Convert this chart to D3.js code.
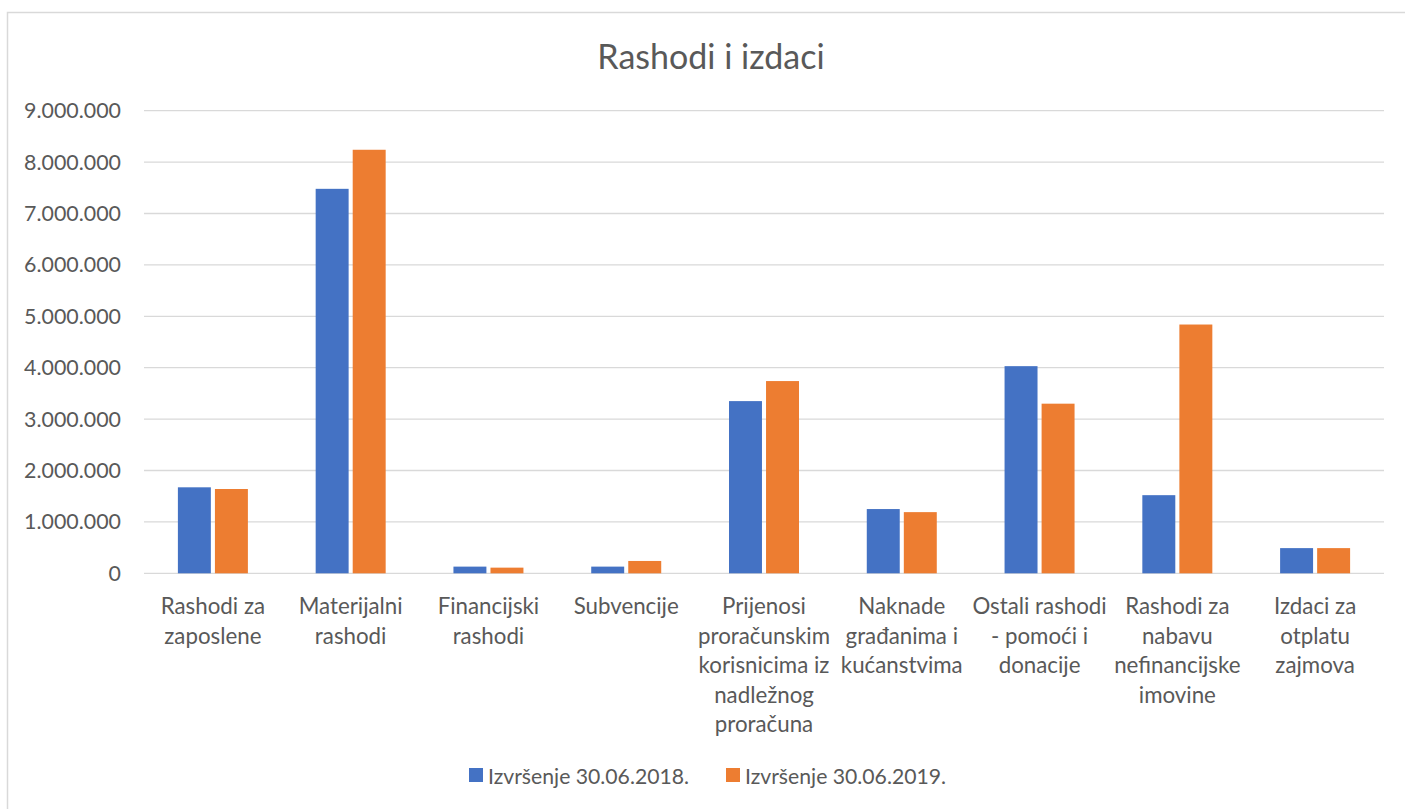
<!DOCTYPE html>
<html>
<head>
<meta charset="utf-8">
<script src="https://cdn.jsdelivr.net/npm/d3@7"></script>
<style>
  body { margin: 0; background: #fff; }
  text { font-family: Lato, "Open Sans", sans-serif; fill: #595959; }
</style>
</head>
<body>
<svg width="1405" height="809"></svg>
<script>
const width = 1405
const height = 809

// chart data
const categories = [
  "Rashodi za zaposlene",
  "Materijalni rashodi",
  "Financijski rashodi",
  "Subvencije",
  "Prijenosi proračunskim korisnicima iz nadležnog proračuna",
  "Naknade građanima i kućanstvima",
  "Ostali rashodi - pomoći i donacije",
  "Rashodi za nabavu nefinancijske imovine",
  "Izdaci za otplatu zajmova"
]
const categoryLines = [
  ["Rashodi za", "zaposlene"],
  ["Materijalni", "rashodi"],
  ["Financijski", "rashodi"],
  ["Subvencije"],
  ["Prijenosi", "proračunskim", "korisnicima iz", "nadležnog", "proračuna"],
  ["Naknade", "građanima i", "kućanstvima"],
  ["Ostali rashodi", "- pomoći i", "donacije"],
  ["Rashodi za", "nabavu", "nefinancijske", "imovine"],
  ["Izdaci za", "otplatu", "zajmova"]
]
const seriesNames = ["Izvršenje 30.06.2018.", "Izvršenje 30.06.2019."]
const values2018 = [1673000, 7480000, 130000, 130000, 3350000, 1250000, 4030000, 1520000, 490000]
const values2019 = [1640000, 8240000, 110000, 240000, 3740000, 1190000, 3300000, 4840000, 490000]
const yTicks = [0, 1000000, 2000000, 3000000, 4000000, 5000000, 6000000, 7000000, 8000000, 9000000]
const colors = ["#4472C4", "#ED7D31"]

const plot = {left: 144, right: 1384, top: 110.7, bottom: 573.3}

const hr = d3.formatLocale({decimal: ",", thousands: ".", grouping: [3], currency: ["", ""]})
const fmt = hr.format(",")

let svg = d3.select("svg")

// outer chart border
svg.append("rect")
  .attr("x", 7.5).attr("y", 12.5)
  .attr("width", width).attr("height", height)
  .attr("fill", "none")
  .attr("stroke", "#d9d9d9")
  .attr("stroke-width", 1.5)

let x = d3.scaleBand()
  .domain(categories)
  .range([plot.left, plot.right])

let x1 = d3.scaleBand()
  .domain([0, 1])
  .range([0, 70])
  .paddingInner(0.11)

let y = d3.scaleLinear()
  .domain([0, 9000000])
  .range([plot.bottom, plot.top])

// gridlines
svg.append("g")
  .selectAll("line")
  .data(yTicks)
  .enter()
  .append("line")
    .attr("x1", plot.left)
    .attr("x2", plot.right)
    .attr("y1", d => y(d))
    .attr("y2", d => y(d))
    .attr("stroke", "#d9d9d9")
    .attr("stroke-width", 1.3)

// y tick labels
svg.append("g")
  .selectAll("text")
  .data(yTicks)
  .enter()
  .append("text")
    .attr("x", 121)
    .attr("y", d => y(d) + 7.5)
    .attr("text-anchor", "end")
    .attr("font-size", "21.4px")
    .text(d => fmt(d))

// bars
const series = [values2018, values2019]
series.forEach((vals, si) => {
  svg.append("g")
    .selectAll("rect")
    .data(vals)
    .enter()
    .append("rect")
      .attr("x", (d, i) => x(categories[i]) + x.bandwidth() / 2 - 35 + x1(si))
      .attr("y", d => y(d))
      .attr("width", x1.bandwidth())
      .attr("height", d => plot.bottom - y(d))
      .attr("fill", colors[si])
})

// category labels
let labels = svg.append("g")
categoryLines.forEach((lines, i) => {
  let t = labels.append("text")
    .attr("x", x(categories[i]) + x.bandwidth() / 2)
    .attr("y", 614)
    .attr("text-anchor", "middle")
    .attr("font-size", "22.3px")
  lines.forEach((line, li) => {
    t.append("tspan")
      .attr("x", x(categories[i]) + x.bandwidth() / 2)
      .attr("dy", li === 0 ? 0 : 29.5)
      .text(line)
  })
})

// title
svg.append("text")
  .attr("x", 711)
  .attr("y", 69)
  .attr("text-anchor", "middle")
  .attr("font-size", "34px")
  .text("Rashodi i izdaci")

// legend
const legendX = [469, 726]
seriesNames.forEach((name, i) => {
  svg.append("rect")
    .attr("x", legendX[i]).attr("y", 768)
    .attr("width", 14).attr("height", 14)
    .attr("fill", colors[i])
  svg.append("text")
    .attr("x", legendX[i] + 19)
    .attr("y", 783.5)
    .attr("font-size", "21.2px")
    .text(name)
})
</script>
</body>
</html>
